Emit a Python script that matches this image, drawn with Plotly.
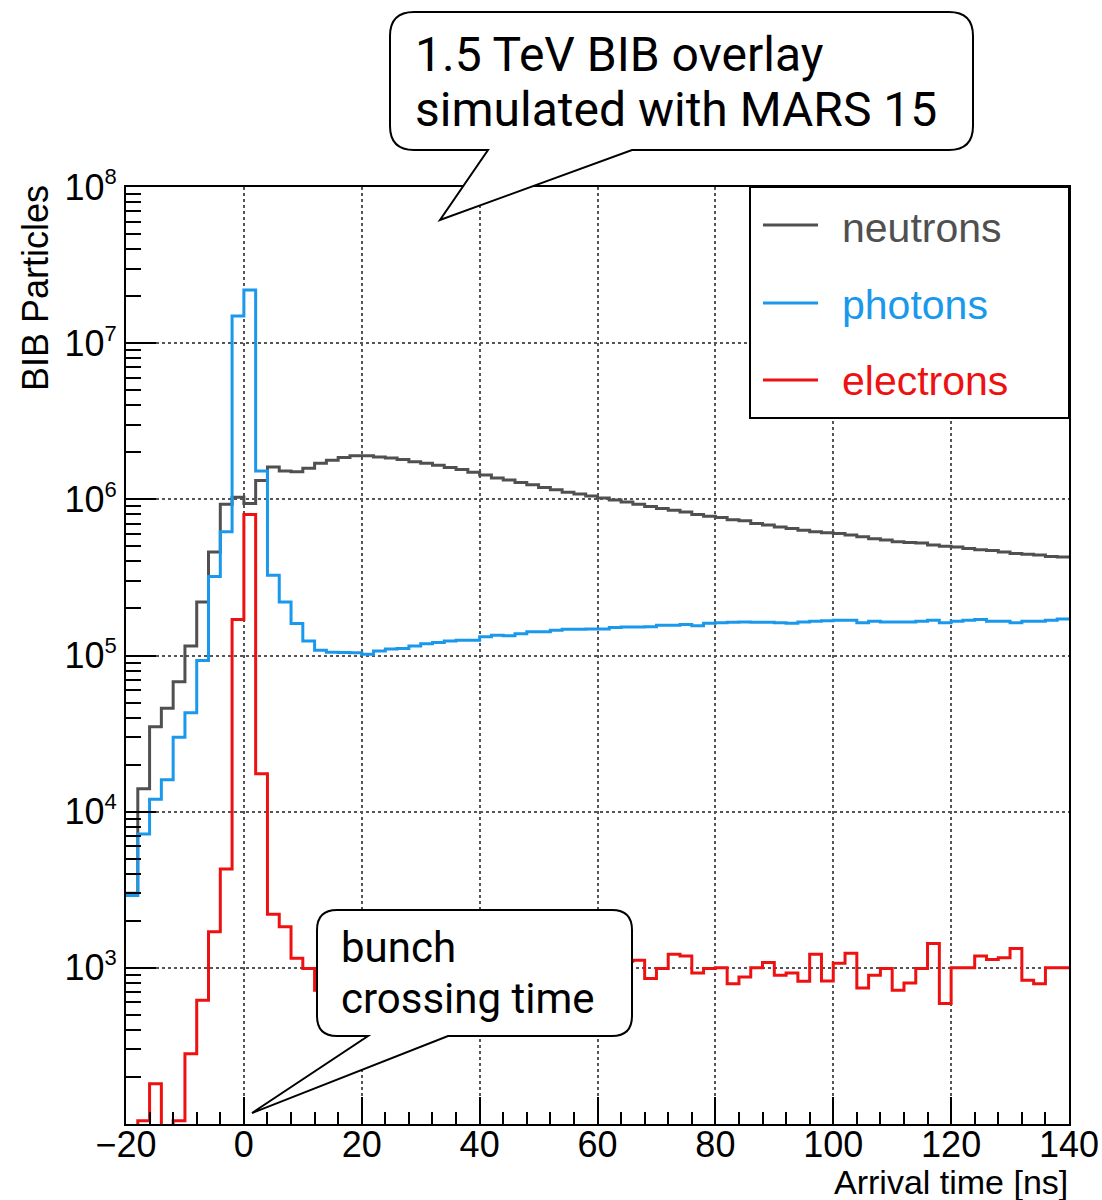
import plotly.graph_objects as go

# ---------------- data (2 ns bins from -20 to 140 ns) ----------------
bin_edges = list(range(-20, 142, 2))          # 81 edges -> 80 bins

neutrons = [
    3.0e3, 1.4e4, 3.5e4, 4.6e4, 6.8e4, 1.15e5, 2.2e5, 4.6e5, 9.3e5, 1.03e6,   # -20 .. -2
    9.4e5, 1.32e6, 1.61e6, 1.52e6, 1.50e6, 1.58e6, 1.70e6, 1.78e6, 1.85e6, 1.90e6,  # 0 .. 18
    1.90e6, 1.87e6, 1.84e6, 1.80e6, 1.74e6, 1.70e6, 1.65e6, 1.60e6, 1.55e6, 1.49e6,  # 20 .. 38
    1.43e6, 1.37e6, 1.33e6, 1.28e6, 1.24e6, 1.19e6, 1.15e6, 1.11e6, 1.08e6, 1.05e6,  # 40 .. 58
    1.02e6, 9.9e5, 9.6e5, 9.3e5, 9.0e5, 8.75e5, 8.5e5, 8.3e5, 8.0e5, 7.8e5,          # 60 .. 78
    7.65e5, 7.4e5, 7.3e5, 7.0e5, 6.85e5, 6.65e5, 6.5e5, 6.35e5, 6.2e5, 6.1e5,        # 80 .. 98
    6.05e5, 5.9e5, 5.75e5, 5.6e5, 5.5e5, 5.35e5, 5.3e5, 5.25e5, 5.1e5, 5.0e5,        # 100 .. 118
    4.95e5, 4.85e5, 4.75e5, 4.7e5, 4.6e5, 4.5e5, 4.45e5, 4.4e5, 4.3e5, 4.27e5,       # 120 .. 138
]

photons = [
    2.9e3, 7.2e3, 1.2e4, 1.6e4, 3.0e4, 4.3e4, 9.3e4, 3.2e5, 6.2e5, 1.49e7,    # -20 .. -2
    2.19e7, 1.52e6, 3.27e5, 2.2e5, 1.6e5, 1.24e5, 1.08e5, 1.05e5, 1.045e5, 1.04e5,  # 0 .. 18
    1.02e5, 1.07e5, 1.10e5, 1.11e5, 1.15e5, 1.19e5, 1.21e5, 1.24e5, 1.25e5, 1.25e5,  # 20 .. 38
    1.32e5, 1.35e5, 1.34e5, 1.38e5, 1.42e5, 1.42e5, 1.45e5, 1.47e5, 1.47e5, 1.48e5,  # 40 .. 58
    1.48e5, 1.51e5, 1.52e5, 1.52e5, 1.53e5, 1.56e5, 1.56e5, 1.58e5, 1.55e5, 1.61e5,  # 60 .. 78
    1.62e5, 1.63e5, 1.64e5, 1.63e5, 1.63e5, 1.62e5, 1.61e5, 1.64e5, 1.66e5, 1.67e5,  # 80 .. 98
    1.68e5, 1.68e5, 1.62e5, 1.66e5, 1.64e5, 1.64e5, 1.64e5, 1.66e5, 1.68e5, 1.62e5,  # 100 .. 118
    1.66e5, 1.68e5, 1.70e5, 1.66e5, 1.66e5, 1.62e5, 1.66e5, 1.66e5, 1.68e5, 1.71e5,  # 120 .. 138
]

electrons = [
    0, 105, 181, 0, 105, 282, 620, 1700, 4300, 1.7e5,                 # -20 .. -2
    8.0e5, 1.75e4, 2200, 1830, 1150, 990, 718, 950, 1050, 900,        # 0 .. 18
    1100, 980, 1020, 870, 1150, 1000, 930, 1080, 990, 1200,           # 20 .. 38
    880, 1010, 960, 1120, 1040, 900, 1000, 1180, 950, 1060,           # 40 .. 58
    910, 1030, 1100, 1120, 853, 990, 1220, 1190, 927, 990,            # 60 .. 78
    1000, 792, 875, 1000, 1080, 896, 927, 820, 1220, 824,             # 80 .. 98
    1070, 1240, 743, 896, 990, 718, 800, 990, 1430, 590,              # 100 .. 118
    1000, 1000, 1190, 1130, 1160, 1330, 832, 792, 1000, 1000,         # 120 .. 138
]

series_names = ["neutrons", "photons", "electrons"]
series_colors = ["#505050", "#1a98ec", "#ee1111"]

x_tick_vals = [-20, 0, 20, 40, 60, 80, 100, 120, 140]
y_tick_exponents = [3, 4, 5, 6, 7, 8]

callout_top_lines = ["1.5 TeV BIB overlay", "simulated with MARS 15"]
callout_bottom_lines = ["bunch", "crossing time"]

# ---------------- layout geometry (pixels) ----------------
W, H = 1102, 1200
ML, MR, MT, MB = 126, 33, 187, 76
PW = W - ML - MR
PH = H - MT - MB


def px(x):
    return round((x - ML) / PW, 5)


def py(y):
    return round((H - MB - y) / PH, 5)


def callout_path(l, t, r, b, rad, right_attach, tip, left_attach):
    P = lambda x, y: f"{px(x)},{py(y)}"
    return (
        f"M{P(l + rad, t)} L{P(r - rad, t)} Q{P(r, t)} {P(r, t + rad)} "
        f"L{P(r, b - rad)} Q{P(r, b)} {P(r - rad, b)} "
        f"L{P(right_attach, b)} L{P(tip[0], tip[1])} L{P(left_attach, b)} "
        f"L{P(l + rad, b)} Q{P(l, b)} {P(l, b - rad)} "
        f"L{P(l, t + rad)} Q{P(l, t)} {P(l + rad, t)} Z"
    )


fig = go.Figure()

for name, vals, col in zip(series_names, [neutrons, photons, electrons], series_colors):
    # empty bins are sent below the axis range (as ROOT does on a log scale)
    yv = [v if v > 0 else 1 for v in vals]
    fig.add_trace(go.Scatter(
        x=bin_edges, y=yv + [yv[-1]], mode="lines", name=name,
        line=dict(color=col, width=3, shape="hv"), showlegend=False,
    ))

axis_font = dict(family="Liberation Sans, Arial", size=36, color="black")

fig.update_xaxes(
    range=[-20, 140], tickvals=x_tick_vals, ticks="inside", ticklen=27, tickwidth=2,
    tickcolor="black", minor=dict(dtick=4, tick0=0, ticks="inside", ticklen=12,
                                  tickwidth=2, tickcolor="black", showgrid=False),
    showgrid=True, gridcolor="#555555", griddash="dot", gridwidth=2, zeroline=False,
    showline=True, linecolor="black", linewidth=2, mirror=True, tickfont=axis_font,
    automargin=False, ticklabelstandoff=-12,
)
fig.update_yaxes(
    type="log", range=[2, 8],
    tickvals=[10 ** e for e in y_tick_exponents],
    ticktext=[f"10<sup><span style='font-size:22px'>{e}</span></sup>" for e in y_tick_exponents],
    ticks="inside", ticklen=30, tickwidth=2, tickcolor="black",
    minor=dict(dtick="D1", ticks="inside", ticklen=15, tickwidth=2,
               tickcolor="black", showgrid=False),
    showgrid=True, gridcolor="#555555", griddash="dot", gridwidth=2, zeroline=False,
    showline=True, linecolor="black", linewidth=2, mirror=True, tickfont=axis_font,
    automargin=False,
)

shapes = []
annotations = []

# legend box
shapes.append(dict(type="rect", xref="paper", yref="paper", x0=px(750), x1=px(1069),
                   y0=py(418), y1=py(187), fillcolor="white",
                   line=dict(color="black", width=2), layer="above"))
leg_line_y = [225, 303, 380]
leg_text_y = [228, 305, 381]
for name, col, ly, ty in zip(series_names, series_colors, leg_line_y, leg_text_y):
    shapes.append(dict(type="line", xref="paper", yref="paper", x0=px(763), x1=px(818),
                       y0=py(ly), y1=py(ly), line=dict(color=col, width=3), layer="above"))
    annotations.append(dict(text=name, xref="paper", yref="paper", x=px(840), y=py(ty),
                            xanchor="left", yanchor="middle", showarrow=False,
                            font=dict(family="Liberation Sans, Arial", size=41, color=col)))

# callouts
shapes.append(dict(type="path", xref="paper", yref="paper",
                   path=callout_path(390, 12, 973, 150, 24, 632, (440, 220), 488),
                   fillcolor="white", line=dict(color="black", width=2), layer="above"))
shapes.append(dict(type="path", xref="paper", yref="paper",
                   path=callout_path(317, 910, 632, 1036, 20, 448, (252, 1113), 368),
                   fillcolor="white", line=dict(color="black", width=2), layer="above"))

roboto = "Roboto, Noto Sans, sans-serif"
for txt, cy in zip(callout_top_lines, [55, 110]):
    annotations.append(dict(text=txt, xref="paper", yref="paper", x=px(413), y=py(cy),
                            xanchor="left", yanchor="middle", showarrow=False,
                            font=dict(family=roboto, size=48, color="black")))
for txt, cy in zip(callout_bottom_lines, [947, 998]):
    annotations.append(dict(text=txt, xref="paper", yref="paper", x=px(339), y=py(cy),
                            xanchor="left", yanchor="middle", showarrow=False,
                            font=dict(family=roboto, size=42, color="black")))

# axis titles (ROOT style: aligned to the axis end)
annotations.append(dict(text="Arrival time [ns]", xref="paper", yref="paper",
                        x=px(1070), y=py(1182), xanchor="right", yanchor="middle",
                        showarrow=False, font=dict(family="Liberation Sans, Arial",
                                                   size=34, color="black")))
annotations.append(dict(text="BIB Particles", xref="paper", yref="paper",
                        x=px(36), y=py(288), xanchor="center", yanchor="middle",
                        textangle=-90, showarrow=False,
                        font=dict(family="Liberation Sans, Arial", size=36, color="black")))

fig.update_layout(
    width=W, height=H, autosize=False,
    margin=dict(l=ML, r=MR, t=MT, b=MB, pad=0),
    paper_bgcolor="white", plot_bgcolor="white",
    shapes=shapes, annotations=annotations, showlegend=False,
)

fig.write_html("out.html")
